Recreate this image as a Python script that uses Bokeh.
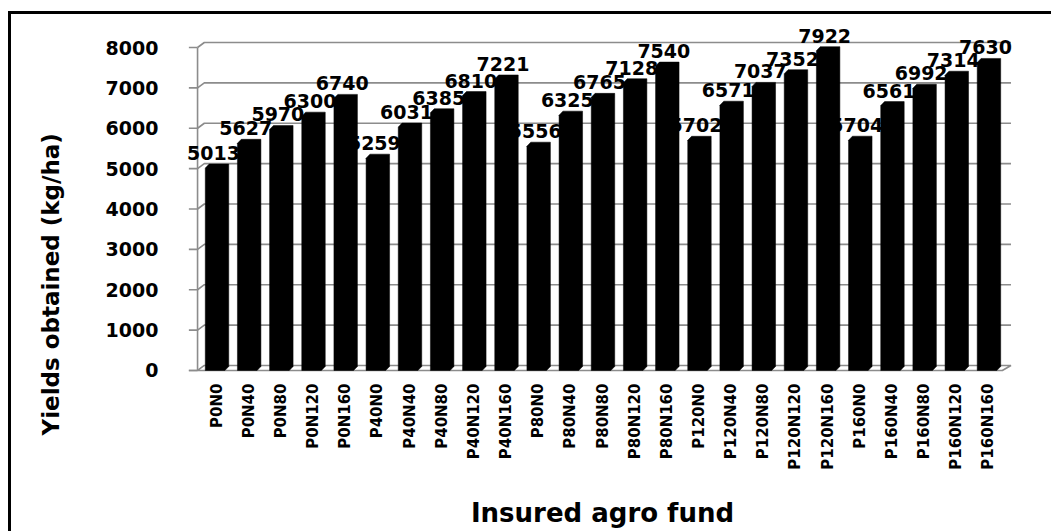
import math

from bokeh.core.properties import value
from bokeh.embed import file_html
from bokeh.models import ColumnDataSource, FactorRange, FixedTicker, Range1d, Title
from bokeh.plotting import figure
from bokeh.resources import INLINE

# Fertiliser treatments (P and N doses, kg/ha) and the yields obtained
treatments = [
    "P0N0", "P0N40", "P0N80", "P0N120", "P0N160",
    "P40N0", "P40N40", "P40N80", "P40N120", "P40N160",
    "P80N0", "P80N40", "P80N80", "P80N120", "P80N160",
    "P120N0", "P120N40", "P120N80", "P120N120", "P120N160",
    "P160N0", "P160N40", "P160N80", "P160N120", "P160N160",
]
yields = [
    5013, 5627, 5970, 6300, 6740,
    5259, 6031, 6385, 6810, 7221,
    5556, 6325, 6765, 7128, 7540,
    5702, 6571, 7037, 7352, 7922,
    5704, 6561, 6992, 7314, 7630,
]
y_ticks = [0, 1000, 2000, 3000, 4000, 5000, 6000, 7000, 8000]

FONT = value("DejaVu Sans")
GRID = "#8c8c8c"

# pseudo-3D geometry, in synthetic category units (x) and data units (y)
BAR_LEFT, BAR_RIGHT = -0.35, 0.26      # front face, relative to category centre
BAR_DX, BAR_DY = 0.12, 99              # depth of each column
WALL_FRONT_X, WALL_BACK_X = -0.09, 0.12
WALL_DY = 124
TICK_X = -0.36

n = len(treatments)

# black frame lines along the left and top of the chart area (CSS background,
# visible through the transparent border region of the canvas)
frame_lines = {
    "background-color": "white",
    "background-image": "linear-gradient(#000, #000), linear-gradient(#000, #000)",
    "background-size": "3px 100%, 100% 3px",
    "background-position": "8px 11px, 8px 11px",
    "background-repeat": "no-repeat",
}

p = figure(
    width=1051, height=531,
    x_range=FactorRange(factors=treatments, range_padding=0.9,
                        range_padding_units="absolute"),
    y_range=Range1d(-50, 8768),
    output_backend="svg", toolbar_location=None,
    min_border_left=170, min_border_right=18,
    min_border_top=16, min_border_bottom=159,
    styles=frame_lines,
)
p.outline_line_color = None
p.background_fill_color = "white"
p.border_fill_color = None
p.xgrid.visible = False
p.ygrid.visible = False

# walls, floor and gridlines
grid_xs = [[WALL_FRONT_X, WALL_BACK_X, n + 0.2] for t in y_ticks[1:]]
grid_ys = [[t, t + WALL_DY, t + WALL_DY] for t in y_ticks[1:]]
p.multi_line(grid_xs, grid_ys, line_color=GRID, line_width=1.6)
p.multi_line(
    [[TICK_X, n - 0.07, n + 0.2, WALL_BACK_X, WALL_FRONT_X],
     [WALL_FRONT_X, WALL_FRONT_X]],
    [[0, 0, WALL_DY, WALL_DY, 0],
     [0, y_ticks[-1]]],
    line_color=GRID, line_width=1.6,
)
p.segment(x0=[TICK_X] * len(y_ticks), y0=y_ticks,
          x1=[WALL_FRONT_X] * len(y_ticks), y1=y_ticks,
          line_color=GRID, line_width=1.6)

# value labels (columns are drawn over them)
src = ColumnDataSource(dict(treatment=treatments, yields=yields,
                            label=[str(v) for v in yields]))
p.text(x="treatment", y="yields", text="label", source=src,
       text_font=FONT, text_font_style="bold", text_font_size="19px",
       text_align="center", text_baseline="alphabetic",
       x_offset=-3, y_offset=-15, text_color="black")

# columns with a small visible depth
xs, ys = [], []
for i, v in enumerate(yields):
    c = i + 0.5
    x0, x1 = c + BAR_LEFT, c + BAR_RIGHT
    xs.append([x0, x1, x1 + BAR_DX, x1 + BAR_DX, x0 + BAR_DX, x0])
    ys.append([0, 0, BAR_DY, v + BAR_DY, v + BAR_DY, v])
p.patches(xs, ys, fill_color="black", line_color="black", line_width=0.5)

# axes
p.yaxis.ticker = FixedTicker(ticks=y_ticks)
p.yaxis.axis_line_color = None
p.yaxis.major_tick_out = 0
p.yaxis.major_tick_in = 0
p.yaxis.minor_tick_out = 0
p.yaxis.minor_tick_in = 0
p.yaxis.major_label_standoff = 13
p.yaxis.major_label_text_font = "DejaVu Sans"
p.yaxis.major_label_text_font_style = "bold"
p.yaxis.major_label_text_font_size = "19px"
p.yaxis.major_label_text_color = "black"

p.xaxis.axis_line_color = None
p.xaxis.major_tick_out = 0
p.xaxis.major_tick_in = 0
p.xaxis.major_label_orientation = math.pi / 2
p.xaxis.major_label_standoff = 11
p.xaxis.major_label_text_font = "DejaVu Sans"
p.xaxis.major_label_text_font_style = "bold"
p.xaxis.major_label_text_font_size = "15px"
p.xaxis.major_label_text_color = "black"
p.xaxis.axis_label = "Insured agro fund"
p.xaxis.axis_label_standoff = 25
p.xaxis.axis_label_text_font = "DejaVu Sans"
p.xaxis.axis_label_text_font_style = "bold"
p.xaxis.axis_label_text_font_size = "26px"
p.xaxis.axis_label_text_color = "black"

# y-axis title, set lower than the middle of the value axis
p.add_layout(Title(text="Yields obtained (kg/ha)", align="left", offset=-63,
                   vertical_align="top", standoff=74,
                   text_font="DejaVu Sans", text_font_style="bold",
                   text_font_size="23px", text_color="black"), "left")

open("out.html", "w").write(file_html(p, INLINE))
